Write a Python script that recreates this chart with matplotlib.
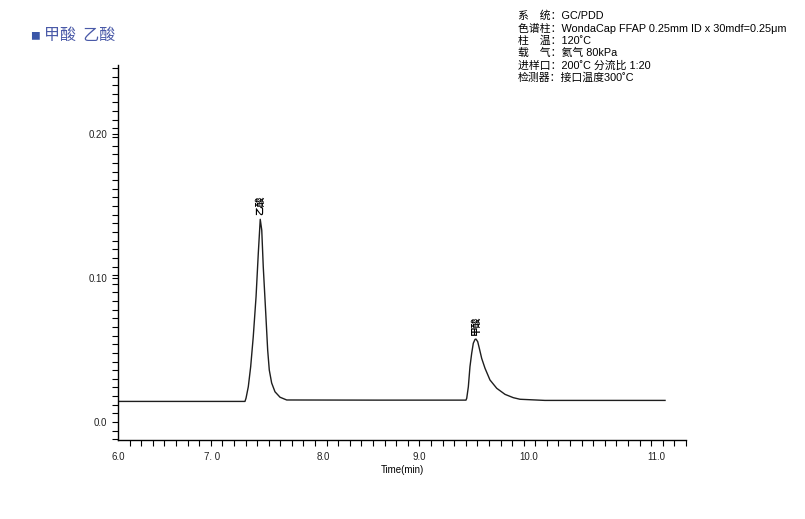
import numpy as np
import matplotlib.pyplot as plt
from matplotlib.ticker import MultipleLocator

plt.rcParams['font.family'] = ['Liberation Sans', 'Noto Sans CJK SC', 'DejaVu Sans']

# chromatogram trace (time in min, signal)
time = [6.00, 7.180, 7.190, 7.211, 7.233, 7.257, 7.283, 7.304, 7.322, 7.336,
        7.350, 7.373, 7.391, 7.406, 7.428, 7.459, 7.506, 7.568, 8.40, 9.234,
        9.241, 9.256, 9.271, 9.287, 9.302, 9.318, 9.327, 9.343, 9.358, 9.380,
        9.411, 9.457, 9.520, 9.597, 9.674, 9.736, 9.968, 11.084]
signal = [0.0143, 0.0143, 0.0166, 0.0245, 0.0384, 0.0592, 0.0870, 0.1174, 0.1408, 0.1333,
          0.1078, 0.0757, 0.0500, 0.0361, 0.0271, 0.0210, 0.0172, 0.0153, 0.0152, 0.0152,
          0.0165, 0.0245, 0.0384, 0.0477, 0.0547, 0.0574, 0.0576, 0.0558, 0.0512, 0.0442,
          0.0373, 0.0292, 0.0234, 0.0192, 0.0169, 0.0158, 0.0150, 0.0150]

peak_names = ["乙酸", "甲酸"]
peak_times = [7.322, 9.327]
peak_heights = [0.1408, 0.0576]

xtick_pos = [6.0, 6.874, 7.905, 8.797, 9.82, 11.0]
xtick_labels = ["6.0", "7. 0", "8.0", "9.0", "10.0", "11.0"]
ytick_vals = [0.0, 0.10, 0.20]
ytick_labels = ["0.0", "0.10", "0.20"]

info_lines = [
    "系　统：GC/PDD",
    "色谱柱：WondaCap FFAP 0.25mm ID x 30mdf=0.25μm",
    "柱　温：120˚C",
    "载　气：氦气 80kPa",
    "进样口：200˚C 分流比 1:20",
    "检测器：接口温度300˚C",
]

cjk = ['Noto Sans CJK SC', 'DejaVu Sans']

fig = plt.figure(figsize=(8.05, 5.19), dpi=100)
ax = fig.add_axes([118 / 805, 79 / 519, 568 / 805, 375 / 519])

ax.plot(time, signal, color="#1e1e1e", linewidth=1.0)

for name, t, h in zip(peak_names, peak_times, peak_heights):
    ax.text(t, h + 0.003, name, rotation=90, ha="center", va="bottom",
            fontsize=7, family=cjk, fontweight="bold")

xmax = 6.0 + 568 / 107.6
ax.set_xlim(6.0, xmax)
ax.set_ylim(-0.0125, 0.248)

ax.set_xticks(xtick_pos)
ax.set_xticklabels(xtick_labels, fontsize=7, color="#222222")
ax.set_xticks(np.linspace(6.0, xmax, 50), minor=True)
ax.tick_params(axis="x", which="major", length=0, pad=9)
ax.tick_params(axis="x", which="minor", length=4, width=0.8)

ax.set_yticks(ytick_vals)
ax.set_yticklabels(ytick_labels, fontsize=7, color="#222222")
ax.yaxis.set_minor_locator(MultipleLocator(0.006))
ax.tick_params(axis="y", which="both", length=4, width=0.8, pad=4)

ax.spines["top"].set_visible(False)
ax.spines["right"].set_visible(False)
ax.spines["left"].set_linewidth(1.0)
ax.spines["bottom"].set_linewidth(1.0)

ax.set_xlabel("Time(min)", fontsize=7, labelpad=2)

fig.text(30 / 805, 1 - 36 / 519, "■", color="#3a56a8", fontsize=7, va="center", family=cjk)
fig.text(44 / 805, 1 - 35 / 519, "甲酸  乙酸", color="#4a5aa8", fontsize=11.5, va="center",
         family=cjk)

for i, line in enumerate(info_lines):
    fig.text(518 / 805, 1 - (16 + i * 12.4) / 519, line, fontsize=7.8, va="center")

fig.savefig("out.png", dpi=100)
